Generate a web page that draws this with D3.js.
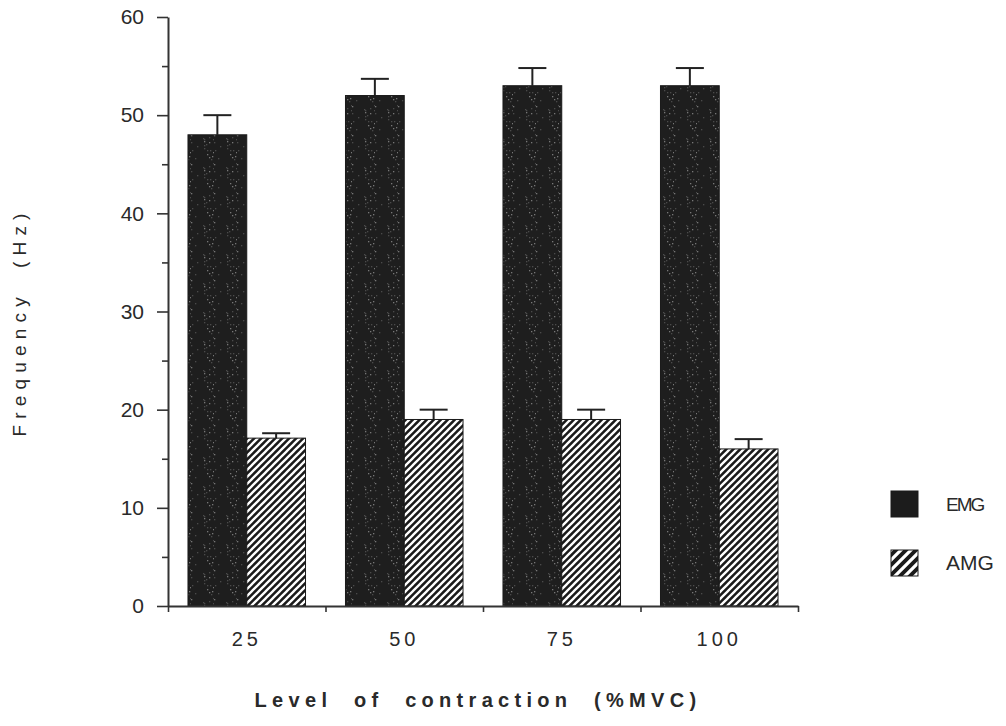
<!DOCTYPE html>
<html>
<head>
<meta charset="utf-8">
<script src="https://cdn.jsdelivr.net/npm/d3@7"></script>
<style>
  body { margin: 0; background: #fff; }
  text { font-family: "Liberation Sans", Arial, sans-serif; fill: #2a2a2a; }
</style>
</head>
<body>
<div id="chart"></div>
<script>
// data
var levels = ['25', '50', '75', '100'];
var series = ['EMG', 'AMG'];
var emgMean = [48, 52, 53, 53];
var emgErr = [2.0, 1.7, 1.8, 1.8];
var amgMean = [17.1, 19, 19, 16];
var amgErr = [0.5, 1.0, 1.0, 1.0];
var yTicks = [0, 10, 20, 30, 40, 50, 60];
var yMinor = [5, 15, 25, 35, 45, 55];

var W = 1006, H = 726;
var margin = {top: 17, right: 208, bottom: 120, left: 168},
    width = W - margin.left - margin.right,
    height = H - margin.top - margin.bottom;

var svg = d3.select('#chart').append('svg')
    .attr('width', W)
    .attr('height', H);

var defs = svg.append('defs');

// speckled black fill for EMG
var speck = defs.append('pattern')
    .attr('id', 'speck')
    .attr('patternUnits', 'userSpaceOnUse')
    .attr('width', 23).attr('height', 29);
speck.append('rect').attr('width', 23).attr('height', 29).attr('fill', '#1e1e1e');
var seed = 7;
function lcg() { seed = (seed * 1103515245 + 12345) % 2147483648; return seed / 2147483648; }
for (var i = 0; i < 22; i++) {
    speck.append('rect')
        .attr('x', Math.floor(lcg() * 23))
        .attr('y', Math.floor(lcg() * 29))
        .attr('width', 1.3).attr('height', 1.3)
        .attr('fill', lcg() > 0.5 ? '#777' : '#4a4a4a');
}

// diagonal hatch for AMG
function hatch(id, size, lw) {
    var p = defs.append('pattern')
        .attr('id', id)
        .attr('patternUnits', 'userSpaceOnUse')
        .attr('width', size).attr('height', size);
    p.append('rect').attr('width', size).attr('height', size).attr('fill', '#1a1a1a');
    p.append('path')
        .attr('d', 'M0,' + size + ' L' + size + ',0 M' + (-size / 2) + ',' + (size / 2) + ' L' + (size / 2) + ',' + (-size / 2) +
            ' M' + (size / 2) + ',' + (size * 1.5) + ' L' + (size * 1.5) + ',' + (size / 2))
        .attr('stroke', '#fff')
        .attr('stroke-width', lw);
}
hatch('hatch', 7, 2.3);
hatch('hatchBig', 10, 3.2);

var g = svg.append('g').attr('transform', 'translate(' + margin.left + ',' + margin.top + ')');

var x0 = d3.scaleBand().domain(levels).range([0, width]).padding(0);
var x1 = d3.scaleBand().domain(series).range([0, x0.bandwidth()]).paddingInner(0).paddingOuter(0.34);
var y = d3.scaleLinear().domain([0, 60]).range([height, 0]);

var rows = levels.map(function (l, i) {
    return [
        {level: l, key: 'EMG', v: emgMean[i], e: emgErr[i]},
        {level: l, key: 'AMG', v: amgMean[i], e: amgErr[i]}
    ];
});
var flat = [].concat.apply([], rows);
var fills = {EMG: 'url(#speck)', AMG: 'url(#hatch)'};

// error bars (drawn under bars)
var eb = g.selectAll('.err').data(flat).enter().append('g').attr('class', 'err')
    .attr('stroke', '#222').attr('stroke-width', 2);
eb.append('line')
    .attr('x1', function (d) { return x0(d.level) + x1(d.key) + x1.bandwidth() / 2; })
    .attr('x2', function (d) { return x0(d.level) + x1(d.key) + x1.bandwidth() / 2; })
    .attr('y1', function (d) { return y(d.v); })
    .attr('y2', function (d) { return y(d.v + d.e); });
eb.append('line')
    .attr('x1', function (d) { return x0(d.level) + x1(d.key) + x1.bandwidth() / 2 - 14; })
    .attr('x2', function (d) { return x0(d.level) + x1(d.key) + x1.bandwidth() / 2 + 14; })
    .attr('y1', function (d) { return y(d.v + d.e); })
    .attr('y2', function (d) { return y(d.v + d.e); });

g.selectAll('.bar').data(flat).enter().append('rect')
    .attr('class', 'bar')
    .attr('x', function (d) { return x0(d.level) + x1(d.key); })
    .attr('y', function (d) { return y(d.v); })
    .attr('width', x1.bandwidth())
    .attr('height', function (d) { return y(0) - y(d.v); })
    .attr('fill', function (d) { return fills[d.key]; })
    .attr('stroke', '#1a1a1a')
    .attr('stroke-width', 1);

// y axis
var yAxis = g.append('g').attr('class', 'axis')
    .call(d3.axisLeft(y).tickValues(yTicks).tickSize(11).tickPadding(13).tickSizeOuter(0));
g.append('g')
    .call(d3.axisLeft(y).tickValues(yMinor).tickSize(6).tickFormat('').tickSizeOuter(0))
    .select('.domain').remove();

// x axis
var xAxis = g.append('g').attr('class', 'axis')
    .attr('transform', 'translate(0,' + height + ')')
    .call(d3.axisBottom(x0).tickSize(0).tickPadding(26).tickSizeOuter(0));
g.append('g')
    .attr('transform', 'translate(0,' + height + ')')
    .call(d3.axisBottom(d3.scaleLinear().domain([0, levels.length]).range([0, width]))
        .ticks(levels.length).tickSize(6).tickFormat('').tickSizeOuter(0))
    .select('.domain').remove();

svg.selectAll('.tick line').attr('stroke', '#333').attr('stroke-width', 1.6);
svg.selectAll('.domain').attr('stroke', '#333').attr('stroke-width', 2);
yAxis.selectAll('text').style('font-size', '21px').attr('fill', '#333');
xAxis.selectAll('text').style('font-size', '20px').style('letter-spacing', '4px').attr('fill', '#333');

// axis titles
svg.append('text')
    .attr('transform', 'translate(26,322) rotate(-90)')
    .attr('text-anchor', 'middle')
    .style('font-size', '19px')
    .style('letter-spacing', '6.2px')
    .style('white-space', 'pre')
    .attr('fill', '#333')
    .text('Frequency  (Hz)');

svg.append('text')
    .attr('x', 478)
    .attr('y', 707)
    .attr('text-anchor', 'middle')
    .style('font-size', '20px')
    .style('font-weight', 'bold')
    .style('letter-spacing', '5.3px')
    .style('white-space', 'pre')
    .text('Level  of  contraction  (%MVC)');

// legend
var leg = svg.append('g').attr('transform', 'translate(891,491)');
series.forEach(function (s, i) {
    var row = leg.append('g').attr('transform', 'translate(0,' + (i * 59) + ')');
    row.append('rect')
        .attr('width', 27).attr('height', 26)
        .attr('fill', s === 'EMG' ? '#1c1c1c' : 'url(#hatchBig)')
        .attr('stroke', '#1a1a1a');
    row.append('text')
        .attr('x', 55).attr('y', 13).attr('dy', '0.35em')
        .style('font-size', s === 'EMG' ? '19px' : '21px')
        .style('letter-spacing', s === 'EMG' ? '-2px' : '0px')
        .text(s);
});
</script>
</body>
</html>
